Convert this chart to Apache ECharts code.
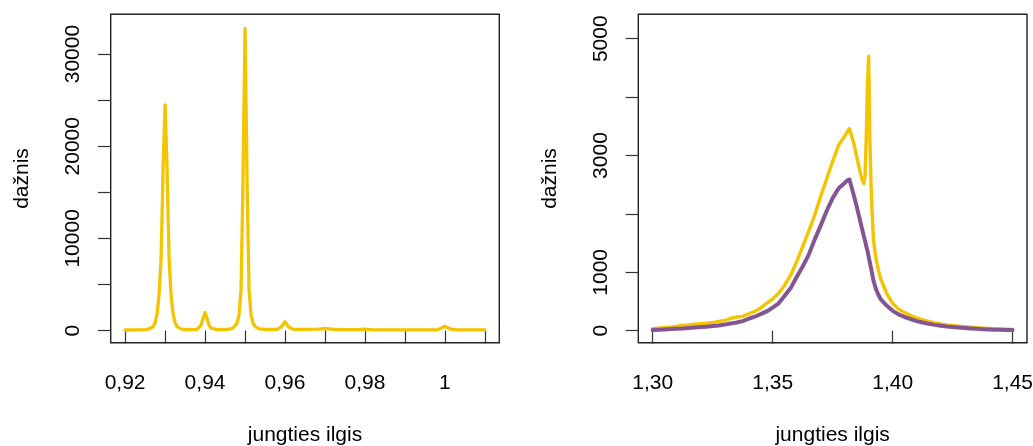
<!DOCTYPE html>
<html><head><meta charset="utf-8">
<script src="https://cdn.jsdelivr.net/npm/echarts@6/dist/echarts.min.js"></script>
<style>html,body{margin:0;padding:0;background:#fff}#c{width:1033px;height:446px}</style>
</head><body><div id="c"></div>
<script>
// ---- Left panel data ----
const leftX = [
  0.920,0.921,0.922,0.923,0.924,0.925,0.9255,0.926,0.9265,0.927,
  0.9275,0.928,0.9285,0.929,0.9295,0.930,0.9305,0.931,0.9315,0.932,
  0.9325,0.933,0.9335,0.934,0.9345,0.935,0.936,0.937,0.9375,0.938,
  0.9385,0.939,0.9395,0.940,0.9405,0.941,0.9415,0.942,0.943,0.944,
  0.945,0.9455,0.946,0.9465,0.947,0.9475,0.948,0.9485,0.949,0.9495,
  0.950,0.9505,0.951,0.9515,0.952,0.9525,0.953,0.9535,0.954,0.955,
  0.956,0.957,0.958,0.9585,0.959,0.9595,0.960,0.9605,0.961,0.9615,
  0.962,0.963,0.964,0.966,0.968,0.969,0.970,0.971,0.972,0.973,
  0.975,0.977,0.978,0.979,0.980,0.981,0.982,0.985,0.990,0.995,
  0.998,0.9985,0.999,0.9995,1.000,1.0005,1.001,1.0015,1.002,1.004,
  1.007,1.010
];
const leftY = [
  60,60,65,70,80,100,120,170,250,420,
  850,1800,3900,7800,17500,24500,17500,7800,3900,1800,
  850,420,250,170,130,110,95,95,110,140,
  250,600,1300,1950,1300,600,250,140,110,100,
  110,125,145,180,280,450,800,1700,4400,16500,
  32800,16500,4400,1700,800,450,280,180,145,125,
  115,115,125,170,350,650,950,650,350,200,
  150,130,120,120,150,180,220,180,140,110,
  90,85,95,115,150,110,85,70,70,70,
  80,120,250,380,470,380,230,130,90,70,
  70,70
];
const leftXTicks = [0.92,0.93,0.94,0.95,0.96,0.97,0.98,0.99,1.00,1.01];
const leftXLabels = [0.92,0.94,0.96,0.98,1.00];
const leftYTicks = [0,5000,10000,15000,20000,25000,30000];
const leftYLabels = [0,10000,20000,30000];

// ---- Right panel data ----
const rightX = [
  1.300,1.3025,1.305,1.3075,1.310,1.3125,1.315,1.3175,1.320,1.3225,
  1.325,1.3275,1.330,1.3325,1.335,1.3375,1.340,1.3425,1.345,1.3475,
  1.350,1.3525,1.355,1.3575,1.360,1.3625,1.365,1.3675,1.370,1.3725,
  1.375,1.3775,
  1.380,1.381,1.382,1.383,1.384,1.385,1.386,1.387,1.388,
  1.3885,1.389,1.3895,1.390,1.3905,1.391,1.3915,1.392,
  1.393,1.394,1.395,
  1.3975,1.400,1.4025,1.405,1.4075,1.410,1.4125,1.415,1.4175,1.420,
  1.4225,1.425,1.4275,1.430,1.4325,1.435,1.4375,1.440,1.4425,1.445,
  1.4475,1.450
];
const yellowY = [
  35,45,55,62,75,95,100,110,120,128,
  140,160,175,210,235,245,290,330,390,470,
  545,640,780,950,1180,1440,1700,1980,2300,2600,
  2900,3180,
  3330,3400,3460,3320,3180,2980,2800,2620,2520,
  2650,3300,4200,4700,3300,2500,2000,1550,
  1250,1050,890,
  640,470,370,310,260,220,185,160,135,115,
  100,90,78,68,60,52,45,40,35,30,
  27,24
];
const purpleY = [
  12,18,22,28,35,40,48,55,62,70,
  80,90,105,125,140,165,205,240,285,330,
  395,470,600,730,920,1100,1300,1560,1800,2050,
  2270,2440,
  2530,2570,2590,2440,2290,2130,1960,1790,1620,
  1540,1450,1370,1270,1170,1070,970,860,
  720,620,540,
  430,340,280,235,200,165,140,118,100,85,
  72,62,54,46,38,32,27,22,18,15,
  13,12
];
const rightXTicks = [1.30,1.35,1.40,1.45];
const rightYTicks = [0,1000,2000,3000,4000,5000];
const rightYLabels = [0,1000,3000,5000];

const YEL = '#F5C400';
const PUR = '#845592';
const FONT = '"Liberation Sans", Arial, Helvetica, sans-serif';
const FS = 21;

function fmtX(v){ return Math.abs(v-1)<1e-9 ? '1' : v.toFixed(2).replace('.', ','); }

function xAxisCfg(idx, min, max, ticks, labels){
  return {
    type:'value', gridIndex:idx, min:min, max:max,
    axisLine:{show:false}, splitLine:{show:false},
    axisTick:{show:true, customValues:ticks, length:13, lineStyle:{color:'#333', width:1.2}},
    axisLabel:{customValues:labels, formatter:fmtX, margin:41, verticalAlign:'middle',
      fontSize:FS, fontFamily:FONT, color:'#000'},
    name:'jungties ilgis', nameLocation:'middle', nameGap:92.5,
    nameTextStyle:{fontSize:FS, fontFamily:FONT, color:'#000', verticalAlign:'middle'}
  };
}
function yAxisCfg(idx, min, max, ticks, labels){
  return {
    type:'value', gridIndex:idx, min:min, max:max,
    axisLine:{show:false}, splitLine:{show:false},
    axisTick:{show:true, customValues:ticks, length:12.7, lineStyle:{color:'#333', width:1.2}},
    axisLabel:{customValues:labels, formatter:(v)=>String(v), rotate:90, align:'center',
      verticalAlign:'middle', margin:37.5, fontSize:FS, fontFamily:FONT, color:'#000'},
    name:'dažnis', nameLocation:'middle', nameGap:88.5, nameRotate:90,
    nameTextStyle:{fontSize:FS, fontFamily:FONT, color:'#000', verticalAlign:'middle'}
  };
}

const chart = echarts.init(document.getElementById('c'), null, {renderer:'canvas'});
chart.setOption({
  animation:false,
  backgroundColor:'#fff',
  grid:[
    {left:110.7, top:14.3, width:388.6, height:328.4, show:true, borderColor:'#222', borderWidth:1.4,
     containLabel:false, outerBoundsMode:'none'},
    {left:638.3, top:14.3, width:388.7, height:328.4, show:true, borderColor:'#222', borderWidth:1.4,
     containLabel:false, outerBoundsMode:'none'}
  ],
  xAxis:[
    xAxisCfg(0, 0.9164, 1.0136, leftXTicks, leftXLabels),
    xAxisCfg(1, 1.294, 1.456, rightXTicks, rightXTicks)
  ],
  yAxis:[
    yAxisCfg(0, -1320, 34320, leftYTicks, leftYLabels),
    yAxisCfg(1, -205, 5418, rightYTicks, rightYLabels)
  ],
  series:[
    {type:'line', xAxisIndex:0, yAxisIndex:0, symbol:'none',
     data:leftX.map((x,i)=>[x,leftY[i]]),
     lineStyle:{color:YEL, width:3.3, join:'round', cap:'round'}},
    {type:'line', xAxisIndex:1, yAxisIndex:1, symbol:'none',
     data:rightX.map((x,i)=>[x,yellowY[i]]),
     lineStyle:{color:YEL, width:3.4, join:'round', cap:'round'}},
    {type:'line', xAxisIndex:1, yAxisIndex:1, symbol:'none',
     data:rightX.map((x,i)=>[x,purpleY[i]]),
     lineStyle:{color:PUR, width:4, join:'round', cap:'round'}}
  ]
});
</script>
</body></html>
